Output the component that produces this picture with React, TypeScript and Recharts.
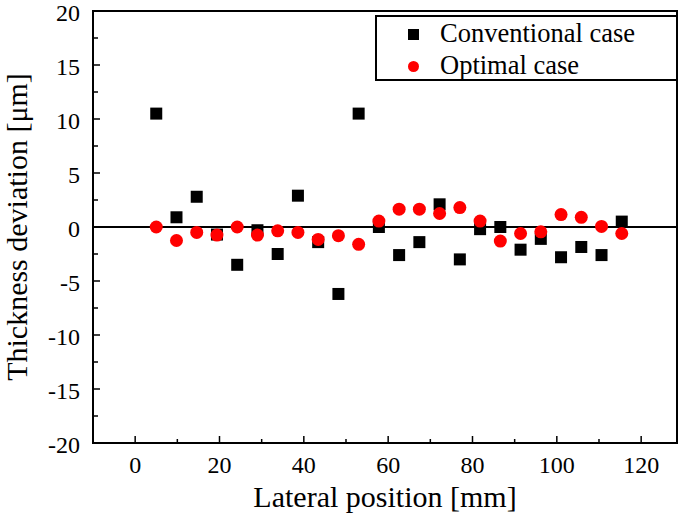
import React from 'react';
import {
  ScatterChart,
  Scatter,
  XAxis,
  YAxis,
  ReferenceLine,
  ReferenceArea,
  Legend,
  Label,
} from 'recharts';

const FONT = '"Liberation Serif", "Times New Roman", Times, serif';

const xPositions = [5, 9.8, 14.6, 19.4, 24.2, 29, 33.8, 38.6, 43.4, 48.2, 53, 57.8, 62.6, 67.4, 72.2, 77, 81.8, 86.6, 91.4, 96.2, 101, 105.8, 110.6, 115.4];
const conventional = [10.5, 0.9, 2.8, -0.7, -3.5, -0.3, -2.5, 2.9, -1.4, -6.2, 10.5, 0.0, -2.6, -1.4, 2.1, -3.0, -0.2, 0.0, -2.1, -1.1, -2.8, -1.85, -2.6, 0.5];
const optimal = [0, -1.25, -0.5, -0.75, 0, -0.75, -0.35, -0.5, -1.15, -0.8, -1.6, 0.55, 1.65, 1.65, 1.25, 1.8, 0.55, -1.3, -0.6, -0.45, 1.15, 0.9, 0.05, -0.6];

const xTicks = [0, 10, 20, 30, 40, 50, 60, 70, 80, 90, 100, 110, 120];
const xLabelTicks = [0, 20, 40, 60, 80, 100, 120];
const yTicks = [-20, -17.5, -15, -12.5, -10, -7.5, -5, -2.5, 0, 2.5, 5, 7.5, 10, 12.5, 15, 17.5, 20];
const yLabelTicks = [-20, -15, -10, -5, 0, 5, 10, 15, 20];

const seriesNames = ['Conventional case', 'Optimal case'];
const xTitle = 'Lateral position [mm]';
const yTitle = 'Thickness deviation [\u03bcm]';

const conventionalData = xPositions.map((x, i) => ({ x, y: conventional[i] }));
const optimalData = xPositions.map((x, i) => ({ x, y: optimal[i] }));

const textStyle = { fontFamily: FONT };

const XTick = (props: any) => {
  const { x, y, payload } = props;
  const v = payload.value;
  const major = xLabelTicks.includes(v);
  return (
    <g>
      <line x1={x} x2={x} y1={y} y2={y - (major ? 7 : 4)} stroke="#000" strokeWidth={1.5} />
      {major && (
        <text x={x} y={y + 30} textAnchor="middle" fontSize={24} fontFamily={FONT} style={textStyle} fill="#000">
          {v}
        </text>
      )}
    </g>
  );
};

const YTick = (props: any) => {
  const { x, y, payload } = props;
  const v = payload.value;
  const major = yLabelTicks.includes(v);
  return (
    <g>
      <line x1={x} x2={x + (major ? 7 : 5)} y1={y} y2={y} stroke="#000" strokeWidth={1.5} />
      {major && (
        <text x={x - 13} y={y} dy="0.4em" textAnchor="end" fontSize={24} fontFamily={FONT} style={textStyle} fill="#000">
          {v}
        </text>
      )}
    </g>
  );
};

const SquareShape = (props: any) => (
  <rect x={props.cx - 6} y={props.cy - 6} width={12} height={12} fill="#000" />
);
const CircleShape = (props: any) => <circle cx={props.cx} cy={props.cy} r={6.5} fill="#ff0000" />;

const LegendBox = () => (
  <div
    style={{
      width: 303,
      height: 66,
      boxSizing: 'border-box',
      border: '2px solid #000',
      background: '#fff',
      position: 'relative',
      fontFamily: FONT,
      fontSize: 26.5,
      color: '#000',
    }}
  >
    <div style={{ position: 'absolute', left: 31, top: 12, width: 11, height: 11, background: '#000' }} />
    <div style={{ position: 'absolute', left: 63, top: 1, lineHeight: '30px', whiteSpace: 'nowrap' }}>{seriesNames[0]}</div>
    <div style={{ position: 'absolute', left: 31, top: 44, width: 11, height: 11, borderRadius: '50%', background: '#ff0000' }} />
    <div style={{ position: 'absolute', left: 63, top: 33, lineHeight: '30px', whiteSpace: 'nowrap' }}>{seriesNames[1]}</div>
  </div>
);

export default function App() {
  return (
    <div style={{ position: 'absolute', left: 0, top: 0, width: 685, height: 525, background: '#fff' }}>
      <ScatterChart width={685} height={525} margin={{ top: 11, right: 8, bottom: 0, left: 0 }}>
        <XAxis
          type="number"
          dataKey="x"
          domain={[-10, 128.5]}
          ticks={xTicks}
          interval={0}
          tick={<XTick />}
          tickLine={false}
          axisLine={false}
          tickSize={0}
          tickMargin={0}
          height={82}
          allowDataOverflow
        >
          <Label
            content={(p: any) => {
              const vb = p.viewBox;
              return (
                <text x={vb.x + vb.width / 2} y={vb.y + 64} textAnchor="middle" fontSize={30} fontFamily={FONT} style={textStyle} fill="#000">
                  {xTitle}
                </text>
              );
            }}
          />
        </XAxis>
        <YAxis
          type="number"
          dataKey="y"
          domain={[-20, 20]}
          ticks={yTicks}
          interval={0}
          tick={<YTick />}
          tickLine={false}
          axisLine={false}
          tickSize={0}
          tickMargin={0}
          width={93}
          allowDataOverflow
        >
          <Label
            content={(p: any) => {
              const vb = p.viewBox;
              const cx = vb.x + 27;
              const cy = vb.y + vb.height / 2;
              return (
                <text x={cx} y={cy} transform={`rotate(-90, ${cx}, ${cy})`} textAnchor="middle" fontSize={30} fontFamily={FONT} style={textStyle} fill="#000">
                  {yTitle}
                </text>
              );
            }}
          />
        </YAxis>
        <ReferenceArea x1={-10} x2={128.5} y1={-20} y2={20} fill="none" stroke="#000" strokeWidth={2} ifOverflow="visible" />
        <ReferenceLine y={0} stroke="#000" strokeWidth={2} />
        <Scatter name={seriesNames[0]} data={conventionalData} shape={<SquareShape />} isAnimationActive={false} />
        <Scatter name={seriesNames[1]} data={optimalData} shape={<CircleShape />} isAnimationActive={false} />
        <Legend
          layout="vertical"
          align="center"
          verticalAlign="middle"
          wrapperStyle={{ position: 'absolute', left: 375, top: 15, width: 303, height: 66, margin: 0, padding: 0 }}
          content={() => <LegendBox />}
        />
      </ScatterChart>
    </div>
  );
}
